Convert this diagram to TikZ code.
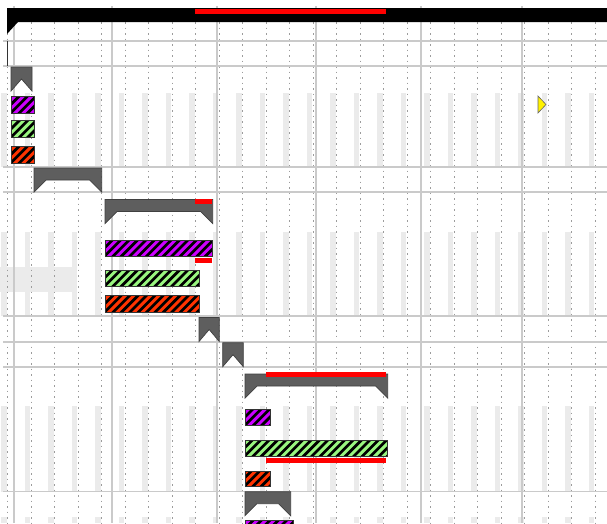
\documentclass[tikz,border=0pt]{standalone}
\definecolor{taskpurple}{HTML}{CC00FF}
\definecolor{taskgreen}{HTML}{99F57F}
\definecolor{taskred}{HTML}{FF3300}
\definecolor{gridgray}{HTML}{CACACA}
\definecolor{daygray}{HTML}{9C9C9C}
\definecolor{weekgray}{HTML}{EBEBEB}
\definecolor{sumgray}{HTML}{5E5E5E}
\newcommand{\sumbar}[3]{%
  \pgfmathsetmacro\sumslant{min(12,(#2-#1)/2)}%
  \draw[summary] (#1,#3) -- (#2,#3) -- (#2,#3+24) -- (#2-\sumslant,#3+12)
    -- (#1+\sumslant,#3+12) -- (#1,#3+24) -- cycle;}
\newcommand{\taskbar}[5]{%
  \begin{scope}
    \clip (#2,#3) rectangle (#4,#5);
    \fill[#1] (#2,#3) rectangle (#4,#5);
    \foreach \s in {0,8.4,...,170}
      \draw[hatch] ({#2-18+\s},#5+1) -- ++(20,-20);
  \end{scope}
  \draw[taskedge] (#2,#3) rectangle (#4,#5);}

\begin{document}
\begin{tikzpicture}[x=1pt,y=-1pt,
  gridline/.style={gridgray,line width=1.2pt},
  dayline/.style={daygray,line width=0.9pt,dash pattern=on 1.5pt off 4pt},
  summary/.style={fill=sumgray,draw=black!75,line width=0.7pt,line join=miter},
  hatch/.style={black,line width=2.7pt},
  taskedge/.style={draw=black!80,line width=0.7pt},
  late/.style={fill=red}]
  \useasboundingbox (0,0) rectangle (607,523);
  \clip (0,0) rectangle (607,523);
  \fill[white] (0,0) rectangle (607,523);
  \foreach \ya/\yb in {93/166.5,232/316,406/491.5,517/523}
    \foreach \k in {0,...,25}
      \fill[weekgray] ({7.5+23.5*\k-6.5},\ya) rectangle ({7.5+23.5*\k-1},\yb);
  \fill[weekgray] (0,267) rectangle (72,292);
  \foreach \k in {0,...,25}
    \draw[dayline] ({7.5+23.5*\k},22) -- ({7.5+23.5*\k},523);
  \foreach \x in {14,112,217,316,421,522}
    \draw[gridline] (\x,6) -- (\x,523);
  \foreach \y in {41,66,167,192,316,342,367,491.5}
    \draw[gridline] (3,\y) -- (607,\y);
  \fill[black] (7,8) -- (607,8) -- (607,22) -- (18,22) -- (7,34) -- cycle;
  \fill[late] (195,9) rectangle (386,14);
  \draw[black!80,line width=1.5pt] (7.5,41) -- (7.5,66);
  \sumbar{11}{32}{67}
  \taskbar{taskpurple}{11}{96}{34}{113}
  \taskbar{taskgreen}{11}{120.5}{34}{137.5}
  \taskbar{taskred}{11}{146}{34}{163}
  \draw[fill=yellow,draw=black!60,line width=0.6pt] (538,96) -- (546,104.5) -- (538,113) -- cycle;
  \sumbar{34}{101.7}{168}
  \sumbar{105}{212.7}{199.5}
  \fill[late] (195,199) rectangle (212,204);
  \taskbar{taskpurple}{105}{240}{212.7}{256}
  \fill[late] (195,258) rectangle (212,262.5);
  \taskbar{taskgreen}{105}{270}{199.7}{286}
  \taskbar{taskred}{105}{295.5}{199.7}{312}
  \sumbar{199}{219.3}{317.5}
  \sumbar{222.7}{243.3}{342.7}
  \sumbar{245}{387.7}{374}
  \fill[late] (266,372) rectangle (386,377);
  \taskbar{taskpurple}{245}{409}{270}{425.5}
  \taskbar{taskgreen}{245}{440}{387.7}{456}
  \fill[late] (266,458) rectangle (386,463);
  \taskbar{taskred}{245}{471}{270}{486}
  \sumbar{245}{290.7}{491.7}
  \taskbar{taskpurple}{245}{520.7}{293.3}{537}
\end{tikzpicture}
\end{document}
